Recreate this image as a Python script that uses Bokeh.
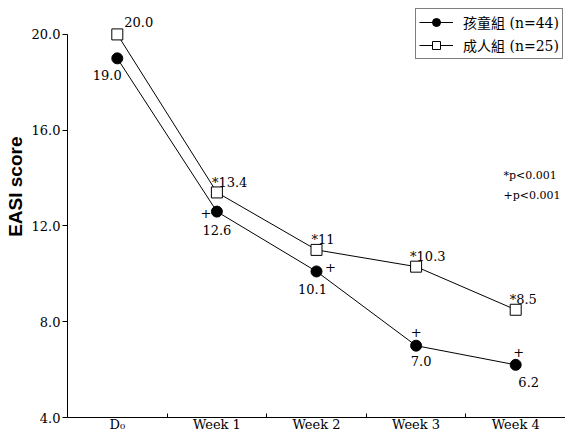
from bokeh.plotting import figure
from bokeh.models import (Range1d, FixedTicker, Legend, LegendItem, Label,
                          ColumnDataSource, Title)
from bokeh.core.properties import value
from bokeh.embed import file_html
from bokeh.resources import INLINE

# ---- data -------------------------------------------------------------
visits = ["D\u2080", "Week 1", "Week 2", "Week 3", "Week 4"]
children = [19.0, 12.6, 10.1, 7.0, 6.2]          # 孩童組 (n=44)
adults = [20.0, 13.4, 11.0, 10.3, 8.5]           # 成人組 (n=25)
children_labels = ["19.0", "12.6", "10.1", "7.0", "6.2"]
adult_labels = ["20.0", "*13.4", "*11", "*10.3", "*8.5"]
children_sig = ["", "+", "+", "+", "+"]           # p<0.001 vs baseline
y_ticks = [4.0, 8.0, 12.0, 16.0, 20.0]
y_title = "EASI score"
legend_names = ["孩童組 (n=44)", "成人組 (n=25)"]
notes = ["*p<0.001", "+p<0.001"]

# ---- label placement (screen-pixel offsets) ----------------------------
adult_dx = [7, -5, -5, -6, -6]
adult_dy = [-12, -10, -10, -10, -10]
child_dx = [-10, 0, -4, 5, 13]
child_dy = [17, 18, 18, 15, 17]
sig_dx = [0, -11, 14, 0, 3]
sig_dy = [0, 1, -4, -14, -13]

SERIF = "DejaVu Serif"
x = list(range(len(visits)))

p = figure(width=565, height=434,
           x_range=Range1d(-0.5, len(visits) - 0.5),
           y_range=Range1d(4.0, 4.0 + 418 / 24),
           min_border_left=67, min_border_right=0,
           min_border_top=0, min_border_bottom=16,
           output_backend="svg", toolbar_location=None)
p.outline_line_color = None
p.xgrid.visible = False
p.ygrid.visible = False

# ---- axes ---------------------------------------------------------------
xa = p.xaxis[0]
xa.ticker = FixedTicker(ticks=x, minor_ticks=[i + 0.5 for i in x[:-1]])
xa.major_label_overrides = {i: v for i, v in enumerate(visits)}
xa.major_tick_in = 0
xa.major_tick_out = 0
xa.minor_tick_in = 4
xa.minor_tick_out = 0
xa.minor_tick_line_color = "black"
xa.major_label_standoff = -1
xa.axis_line_color = "black"
xa.major_label_text_font = SERIF
xa.major_label_text_font_size = "13px"
xa.major_label_text_color = "black"

ya = p.yaxis[0]
ya.ticker = FixedTicker(ticks=y_ticks, minor_ticks=[])
ya.major_label_overrides = {t: f"{t:.1f}" for t in y_ticks}
ya.bounds = (y_ticks[0], y_ticks[-1])
ya.major_tick_in = 0
ya.major_tick_out = 5
ya.major_tick_line_color = "black"
ya.major_label_standoff = 2
ya.axis_line_color = "black"
ya.major_label_text_font = SERIF
ya.major_label_text_font_size = "13px"
ya.major_label_text_color = "black"

# y-axis title as a side title, its end placed a fixed distance below the top
p.add_layout(Title(text=y_title, align="right", offset=136, standoff=5,
                   text_font="Liberation Sans", text_font_style="bold",
                   text_font_size="19px", text_color="black"), "left")

# ---- series ---------------------------------------------------------------
l_child = p.line(x, children, line_color="black", line_width=1)
s_child = p.scatter(x, children, marker="circle", size=11,
                    fill_color="black", line_color="black")
l_adult = p.line(x, adults, line_color="black", line_width=1)
s_adult = p.scatter(x, adults, marker="square", size=11,
                    fill_color="white", line_color="black", line_width=1)

# ---- value labels -------------------------------------------------------
adult_src = ColumnDataSource(dict(x=x, y=adults, text=adult_labels,
                                  dx=adult_dx, dy=adult_dy))
p.text(x="x", y="y", text="text", x_offset="dx", y_offset="dy",
       source=adult_src, text_font=value(SERIF),
       text_font_size="13px", text_color="black",
       text_align="left", text_baseline="middle")

child_src = ColumnDataSource(dict(x=x, y=children, text=children_labels,
                                  dx=child_dx, dy=child_dy))
p.text(x="x", y="y", text="text", x_offset="dx", y_offset="dy",
       source=child_src, text_font=value(SERIF),
       text_font_size="13px", text_color="black",
       text_align="center", text_baseline="middle")

sig_src = ColumnDataSource(dict(x=x, y=children, text=children_sig,
                                dx=sig_dx, dy=sig_dy))
p.text(x="x", y="y", text="text", x_offset="dx", y_offset="dy",
       source=sig_src, text_font=value(SERIF),
       text_font_size="13px", text_color="black",
       text_align="center", text_baseline="middle")

# ---- significance notes -------------------------------------------------
for i, note in enumerate(notes):
    p.add_layout(Label(x=436, y=242 - 20 * i, x_units="screen",
                       y_units="screen", text=note,
                       text_font=SERIF, text_font_size="11px",
                       text_color="black", text_baseline="middle"))

# ---- legend ---------------------------------------------------------------
legend = Legend(items=[LegendItem(label=legend_names[0], renderers=[l_child, s_child]),
                       LegendItem(label=legend_names[1], renderers=[l_adult, s_adult])],
                location=(348, 358), orientation="vertical",
                border_line_color="black", border_line_width=1,
                background_fill_color="white", background_fill_alpha=1,
                padding=3, spacing=3, margin=0,
                glyph_width=34, glyph_height=20, label_standoff=10,
                label_height=20,
                label_text_font="DejaVu Serif, Noto Sans CJK TC",
                label_text_font_size="14px",
                label_text_color="black")
p.add_layout(legend)

open("out.html", "w").write(file_html(p, INLINE))
